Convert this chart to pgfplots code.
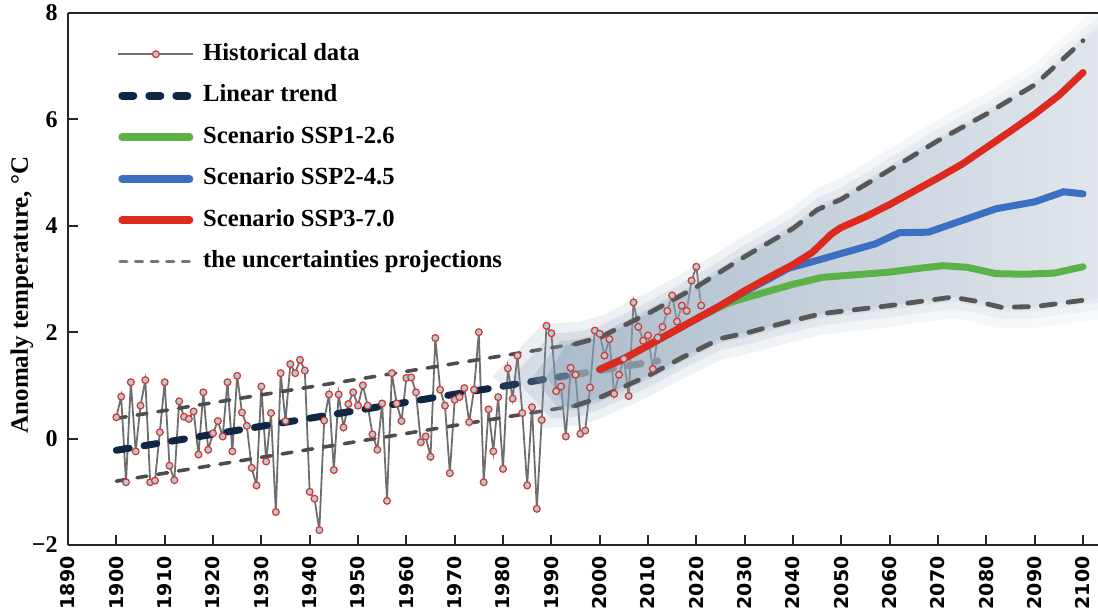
\documentclass[border=0pt]{standalone}
\usepackage{fontspec}
\setmainfont{Liberation Serif}
\newfontfamily\ticksans{DejaVu Sans}
\usepackage{pgfplots}
\usepackage{pgfplotstable}
\pgfplotsset{compat=1.18}
\definecolor{navy}{HTML}{0F2644}
\definecolor{dgray}{HTML}{4D4D4D}
\definecolor{pgray}{HTML}{575757}
\definecolor{lgray}{HTML}{767676}
\definecolor{hgray}{HTML}{6E6E6E}
\definecolor{sgreen}{HTML}{5CB247}
\definecolor{sblue}{HTML}{3B6FC2}
\definecolor{sred}{HTML}{DC2A1F}
\definecolor{band}{HTML}{7F97B0}
\definecolor{mfill}{HTML}{A8CFD1}
\definecolor{mred}{HTML}{E03030}
\definecolor{trendgray}{HTML}{8794A2}

\pgfplotsset{
  histlegend/.style={legend image code/.code={\draw[##1] (0pt,0pt) -- (37.5pt,0pt); \draw[mred, line width=0.6pt, fill=mfill] (18.75pt,0pt) circle (1.7pt);}},
  unclegend/.style={legend image code/.code={\draw[##1] (0.8pt,0pt) -- (37pt,0pt);}},
  glow/.style={forget plot, draw=none, left color=band, right color=band!35!white},
}

\pgfplotstableread{
year temp
1900 0.40
1901 0.79
1902 -0.82
1903 1.06
1904 -0.24
1905 0.62
1906 1.10
1907 -0.82
1908 -0.79
1909 0.12
1910 1.06
1911 -0.51
1912 -0.78
1913 0.70
1914 0.41
1915 0.37
1916 0.51
1917 -0.30
1918 0.87
1919 -0.21
1920 0.10
1921 0.33
1922 0.04
1923 1.06
1924 -0.24
1925 1.18
1926 0.49
1927 0.24
1928 -0.55
1929 -0.88
1930 0.98
1931 -0.43
1932 0.48
1933 -1.38
1934 1.23
1935 0.33
1936 1.40
1937 1.23
1938 1.48
1939 1.28
1940 -1.00
1941 -1.13
1942 -1.72
1943 0.34
1944 0.83
1945 -0.59
1946 0.83
1947 0.21
1948 0.65
1949 0.87
1950 0.62
1951 1.00
1952 0.62
1953 0.08
1954 -0.21
1955 0.66
1956 -1.17
1957 1.23
1958 0.66
1959 0.33
1960 1.14
1961 1.15
1962 0.87
1963 -0.07
1964 0.04
1965 -0.34
1966 1.89
1967 0.92
1968 0.62
1969 -0.65
1970 0.73
1971 0.78
1972 0.95
1973 0.31
1974 0.92
1975 2.00
1976 -0.82
1977 0.55
1978 -0.24
1979 0.78
1980 -0.57
1981 1.32
1982 0.75
1983 1.56
1984 0.48
1985 -0.88
1986 0.59
1987 -1.32
1988 0.35
1989 2.12
1990 1.98
1991 0.89
1992 0.98
1993 0.04
1994 1.33
1995 1.20
1996 0.09
1997 0.15
1998 0.96
1999 2.03
2000 1.97
2001 1.56
2002 1.87
2003 0.84
2004 1.20
2005 1.50
2006 0.80
2007 2.56
2008 2.10
2009 1.84
2010 1.94
2011 1.31
2012 1.90
2013 2.10
2014 2.40
2015 2.69
2016 2.20
2017 2.50
2018 2.40
2019 2.97
2020 3.23
2021 2.50
}\hist

\pgfplotstableread{
x y s t
1993 1.75 1 0.6
1996 1.80 1 0
2000 1.90 1 0
2005 2.12 1 0
2010 2.35 1 0
2015 2.60 1 0
2020 2.85 1 0
2025 3.13 1 0
2030 3.42 1 0
2035 3.68 1 0
2040 3.95 1 0
2045 4.30 1 0
2050 4.50 1 0
2060 5.05 1 0
2070 5.60 1 0
2080 6.10 1 0
2090 6.65 1 0
2100 7.48 1 0
2106 7.90 1 0
2106 2.66 -1 0
2100 2.60 -1 0
2090 2.48 -1 0
2083 2.47 -1 0
2078 2.58 -1 0
2073 2.66 -1 0
2060 2.50 -1 0
2046 2.35 -1 0
2040 2.22 -1 0
2031 2.00 -1 0
2025 1.88 -1 0
2017 1.52 -1 0
2010 1.18 -1 0
2000 0.77 -1 0
1996 0.64 -1 0
1993 0.60 -1 0.6
1989 1.17 0 1.4
}\band

\begin{document}
\begin{tikzpicture}
\begin{axis}[
  name=ax, scale only axis, width=515pt, height=266pt,
  xmin=1890, xmax=2103.1, ymin=-2, ymax=8,
  axis x line*=bottom, axis y line*=left,
  axis line style={-, line width=1.1pt, color=black!85},
  xtick={1890,1900,...,2100},
  xticklabels={1890,1900,1910,1920,1930,1940,1950,1960,1970,1980,1990,2000,2010,2020,2030,2040,2050,2060,2070,2080,2090,2100},
  ytick={-2,0,2,4,6,8},
  yticklabels={−2,0,2,4,6,8},
  tick align=inside, major tick length=5pt,
  tick style={line width=1pt, color=black!85},
  xticklabel style={font=\ticksans\bfseries\fontsize{9.5}{10}\selectfont, rotate=90, anchor=east, inner sep=0pt},
  xticklabel shift=5.5pt,
  yticklabel style={font=\bfseries\fontsize{12}{14}\selectfont, inner sep=0pt},
  yticklabel shift=5pt,
  ylabel={Anomaly temperature, °C},
  ylabel style={font=\bfseries\fontsize{12.5}{14}\selectfont, at={(axis description cs:-0.0447,0.47)}, anchor=center},
  legend style={at={(axis description cs:0.048,0.945)}, anchor=north west, draw=none, fill=none,
    inner sep=0pt, outer sep=0pt, row sep=8.75pt, column sep=4.5pt,
    font=\bfseries\fontsize{12.3}{14}\selectfont,
    nodes={inner sep=0pt, text height=9pt, text depth=3pt}},
  legend cell align=left,
  legend image code/.code={\draw[#1] (1.9pt,0pt) -- (35.6pt,0pt);},
]
% legend entries
\addlegendimage{histlegend, color=hgray, line width=0.9pt}
\addlegendentry{Historical data}
\addlegendimage{color=navy, line width=3.8pt, line cap=round, dash pattern=on 5.7pt off 7.8pt}
\addlegendentry{Linear trend}
\addlegendimage{color=sgreen, line width=3.8pt, line cap=round}
\addlegendentry{Scenario SSP1-2.6}
\addlegendimage{color=sblue, line width=3.8pt, line cap=round}
\addlegendentry{Scenario SSP2-4.5}
\addlegendimage{color=sred, line width=3.8pt, line cap=round}
\addlegendentry{Scenario SSP3-7.0}
\addlegendimage{unclegend, color=lgray, line width=1.6pt, line cap=round, dash pattern=on 3.5pt off 4.3pt}
\addlegendentry{the uncertainties projections}

% historical
\addplot[forget plot, color=hgray, line width=0.9pt, mark=*, mark size=1.7pt,
  mark options={draw=mred, fill=mfill, line width=0.6pt}] table[x=year, y=temp] {\hist};

% uncertainty lines (historical part)
\addplot[forget plot, color=dgray, line width=1.8pt, line cap=round, dash pattern=on 5pt off 5.5pt]
  coordinates {(1900,0.38) (1995,1.78)};
\addplot[forget plot, color=dgray, line width=1.8pt, line cap=round, dash pattern=on 5pt off 5.5pt]
  coordinates {(1900,-0.80) (1995,0.62)};

% linear trend
\addplot[forget plot, color=navy, line width=3.5pt, line cap=round, dash pattern=on 6.5pt off 7.5pt]
  coordinates {(1900,-0.22) (1993,1.18)};

% glow band overlay
\addplot[glow, fill opacity=0.16] table[x expr=\thisrow{x}-8*\thisrow{t}, y expr=\thisrow{y}+0.4*\thisrow{s}] {\band};
\addplot[glow, fill opacity=0.2] table[x expr=\thisrow{x}-5*\thisrow{t}, y expr=\thisrow{y}+0.22*\thisrow{s}] {\band};
\addplot[glow, fill opacity=0.25] table[x expr=\thisrow{x}-2*\thisrow{t}, y expr=\thisrow{y}+0.08*\thisrow{s}] {\band};
\addplot[glow, fill opacity=0.32] table[x=x, y=y] {\band};

% trend continuation (faded)
\addplot[forget plot, color=trendgray, line width=3.5pt, line cap=round, dash pattern=on 6.5pt off 7.5pt]
  coordinates {(1994.5,1.20) (2012,1.46)};

% uncertainty lines in projection (on top of glow)
\addplot[forget plot, color=pgray, line width=2.4pt, line cap=round, dash pattern=on 7pt off 6.5pt]
  coordinates {(1995,1.78) (2000,1.90) (2010,2.35) (2020,2.85) (2030,3.42) (2040,3.95) (2045,4.30) (2050,4.50) (2060,5.05) (2070,5.60) (2080,6.10) (2090,6.65) (2100,7.48)};
\addplot[forget plot, color=pgray, line width=2.4pt, line cap=round, dash pattern=on 7pt off 6.5pt]
  coordinates {(1995,0.62) (2000,0.77) (2010,1.18) (2017,1.52) (2025,1.88) (2031,2.00) (2040,2.22) (2046,2.35) (2060,2.50) (2073,2.66) (2078,2.58) (2083,2.47) (2090,2.48) (2100,2.60)};

% scenarios
\addplot[forget plot, color=sgreen, line width=3.5pt, line cap=round]
  coordinates {(2000,1.3) (2005,1.5) (2010,1.75) (2015,2.0) (2020,2.25) (2025,2.48) (2027,2.56) (2033,2.72) (2040,2.9) (2046,3.03) (2053,3.08) (2060,3.13) (2066,3.2) (2071,3.25) (2076,3.22) (2082,3.1) (2088,3.09) (2094,3.11) (2100,3.23)};
\addplot[forget plot, color=sblue, line width=3.5pt, line cap=round]
  coordinates {(2000,1.3) (2005,1.5) (2010,1.75) (2015,2.0) (2020,2.25) (2025,2.5) (2030,2.76) (2035,3.0) (2039,3.2) (2045,3.35) (2050,3.48) (2057,3.66) (2062,3.87) (2068,3.88) (2075,4.1) (2082,4.32) (2090,4.45) (2096,4.64) (2100,4.6)};
\addplot[forget plot, color=sred, line width=3.5pt, line cap=round]
  coordinates {(2000,1.3) (2005,1.5) (2010,1.75) (2015,2.0) (2020,2.25) (2025,2.5) (2030,2.78) (2035,3.03) (2040,3.27) (2044,3.5) (2048,3.85) (2050,3.97) (2055,4.17) (2060,4.4) (2065,4.65) (2070,4.9) (2075,5.16) (2080,5.47) (2085,5.78) (2090,6.1) (2095,6.45) (2100,6.88)};
\end{axis}
\draw[line width=1.1pt, black!85] (ax.north west) -- (ax.north east);
\pgfresetboundingbox
\path[use as bounding box] ([xshift=-34pt,yshift=-33.5pt]ax.south west) rectangle ([yshift=6.5pt]ax.north east);
\end{tikzpicture}
\end{document}
